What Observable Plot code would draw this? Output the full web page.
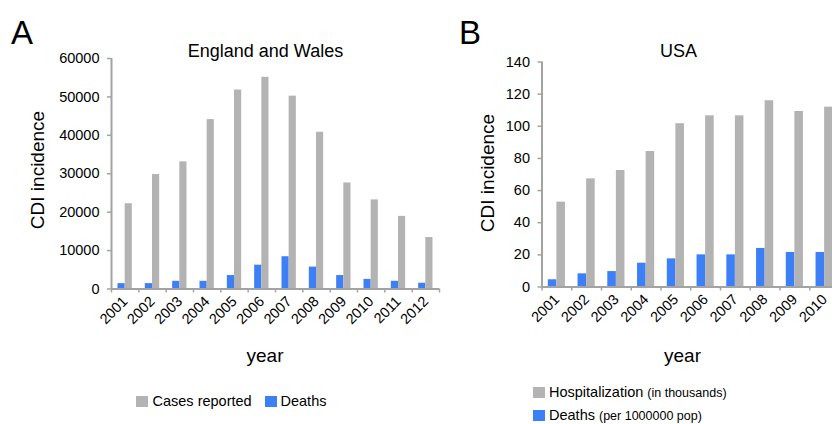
<!DOCTYPE html>
<html><head><meta charset="utf-8">
<script src="https://cdn.jsdelivr.net/npm/d3@7"></script>
<script src="https://cdn.jsdelivr.net/npm/@observablehq/plot@0.6"></script>
<style>
html,body{margin:0;padding:0;background:#fff;overflow:hidden;width:832px;height:424px;}
#root{position:relative;width:832px;height:424px;overflow:hidden;font-family:"Liberation Sans",Arial,sans-serif;color:#000;}
.abs{position:absolute;white-space:nowrap;line-height:1;}
.plot{position:absolute;top:0;}
.sw{position:absolute;width:12px;height:11px;}
</style></head><body><div id="root"></div>
<script>
// ---- Data ----
const yearsA = [2001,2002,2003,2004,2005,2006,2007,2008,2009,2010,2011,2012];
const casesA = [22200,29800,33100,44100,51800,55100,50200,40800,27600,23200,18900,13400];
const deathsA = [1400,1400,2000,2000,3500,6200,8400,5700,3500,2500,2000,1500];
const yTicksA = [0,10000,20000,30000,40000,50000,60000];

const yearsB = [2001,2002,2003,2004,2005,2006,2007,2008,2009,2010];
const hospB = [52.8,67.3,72.5,84.3,101.6,106.5,106.5,115.9,109.2,111.9];
const deathsB = [4.5,8.2,9.6,14.8,17.5,20.0,20.0,24.0,21.5,21.5];
const yTicksB = [0,20,40,60,80,100,120,140];

const panelLetters = ["A","B"];
const titles = ["England and Wales","USA"];
const yLabel = "CDI incidence";
const xLabel = "year";
const legendA = ["Cases reported","Deaths"];
const legendB = [["Hospitalization","(in thousands)"],["Deaths","(per 1000000 pop)"]];

// ---- Style ----
const GREY = "#b3b3b3";
const BLUE = "#3d7ff7";
const AXIS = "#a3a3a3";
const FONT = '"Liberation Sans", Arial, sans-serif';

const root = document.getElementById("root");

function panel({years, grey, blue, yMax, yTicks, left, width, height, marginLeft, marginRight, marginTop, marginBottom, outer}) {
  const data = years.map((y,i) => ({year: y, grey: grey[i], blue: blue[i]}));
  const bw = (width - marginLeft - marginRight) / years.length;
  const bounds = years.map(y => y - 0.5).concat([years[years.length-1] + 0.5]);
  const p = Plot.plot({
    width, height, marginLeft, marginRight, marginTop, marginBottom,
    style: {fontFamily: FONT, fontSize: "14.5px", color: "#000", background: "transparent", overflow: "visible"},
    x: {type: "linear", domain: [years[0]-0.5, years[years.length-1]+0.5], axis: null},
    y: {domain: [0, yMax], axis: null},
    marks: [
      Plot.rectY(data, {x1: d => d.year - 0.5, x2: d => d.year + 0.5, y: "blue", fill: BLUE, insetLeft: outer, insetRight: bw/2}),
      Plot.rectY(data, {x1: d => d.year - 0.5, x2: d => d.year + 0.5, y: "grey", fill: GREY, insetLeft: bw/2, insetRight: outer}),
      Plot.ruleX([years[0]-0.5], {stroke: AXIS, strokeWidth: 2}),
      Plot.ruleY([0], {stroke: AXIS, strokeWidth: 2}),
      Plot.axisY({ticks: yTicks, tickSize: 4, tickPadding: 8, tickFormat: d => String(d), stroke: AXIS, strokeWidth: 1.5, fill: "#000", label: null}),
      Plot.axisX({ticks: bounds, tickSize: 4, tickFormat: () => "", stroke: AXIS, strokeWidth: 1.5, label: null}),
      Plot.axisX({ticks: years, tickSize: 0, tickPadding: 10, tickRotate: -45, tickFormat: d => String(d), fill: "#000", label: null})
    ]
  });
  p.classList.add("plot");
  p.style.left = left + "px";
  root.appendChild(p);
}

panel({years: yearsA, grey: casesA, blue: deathsA, yMax: 60000, yTicks: yTicksA,
  left: 0, width: 450, height: 345, marginLeft: 111, marginRight: 11, marginTop: 58, marginBottom: 56.5, outer: 6.5});
panel({years: yearsB, grey: hospB, blue: deathsB, yMax: 140, yTicks: yTicksB,
  left: 440, width: 410, height: 345, marginLeft: 101.5, marginRight: 11, marginTop: 61.5, marginBottom: 58.5, outer: 6.3});

// ---- Text helpers ----
function txt(html, x, baseline, fs, anchor) {
  const d = document.createElement("div");
  d.className = "abs";
  d.innerHTML = html;
  d.style.fontSize = fs + "px";
  d.style.top = (baseline - 0.8465*fs) + "px";
  d.style.left = x + "px";
  if (anchor === "middle") d.style.transform = "translateX(-50%)";
  root.appendChild(d);
  return d;
}
function vtxt(s, cx, cy, fs) {
  const d = document.createElement("div");
  d.className = "abs";
  d.textContent = s;
  d.style.fontSize = fs + "px";
  d.style.left = cx + "px";
  d.style.top = cy + "px";
  d.style.transform = "translate(-50%,-50%) rotate(-90deg)";
  root.appendChild(d);
}
function swatch(color, x, y) {
  const d = document.createElement("div");
  d.className = "sw";
  d.style.background = color;
  d.style.left = x + "px";
  d.style.top = y + "px";
  root.appendChild(d);
}

txt(panelLetters[0], 11, 44, 33);
txt(panelLetters[1], 459, 44, 33);
txt(titles[0], 265.5, 57, 18, "middle");
txt(titles[1], 678.5, 57, 18, "middle");
txt(xLabel, 265, 362, 19, "middle");
txt(xLabel, 682.5, 362, 19, "middle");
vtxt(yLabel, 36.5, 170, 19);
vtxt(yLabel, 486.7, 173, 19);

swatch(GREY, 136, 396);
txt(legendA[0], 152.5, 406.7, 14.5);
swatch(BLUE, 265, 396);
txt(legendA[1], 280.5, 406.7, 14.5);

swatch(GREY, 533, 387);
txt(legendB[0][0] + ' <span style="font-size:12.5px">' + legendB[0][1] + '</span>', 549, 397.7, 14.5);
swatch(BLUE, 533, 410);
txt(legendB[1][0] + ' <span style="font-size:12.5px">' + legendB[1][1] + '</span>', 549, 420, 14.5);
</script>
</body></html>
